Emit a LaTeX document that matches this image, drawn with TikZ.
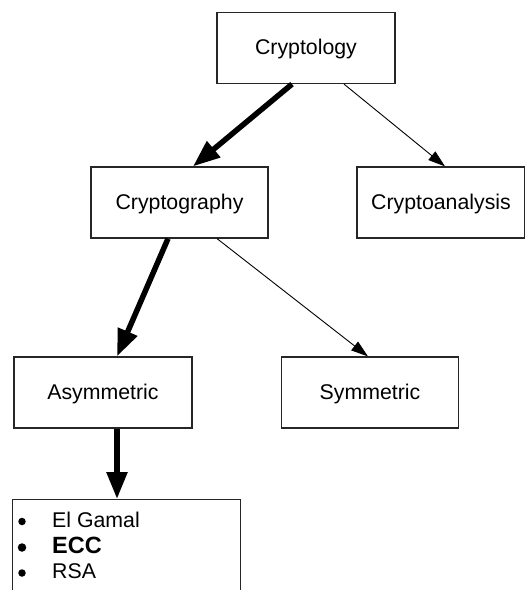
\documentclass[tikz,border=0pt]{standalone}
\usepackage{fontspec}
\setmainfont{Liberation Sans}
\usetikzlibrary{arrows.meta}
\begin{document}
\begin{tikzpicture}[x=1pt,y=-1pt,
  box/.style={draw=black!85,line width=1.2pt,fill=white,rectangle,inner sep=0pt,
    minimum width=#1,minimum height=71pt,text height=15pt,text depth=2pt,
    font=\fontsize{21.3}{25}\selectfont},
  box/.default=178pt,
  heavy/.style={line width=5.5pt,-{Triangle[length=27pt,width=20pt]}},
  light/.style={line width=0.9pt,-{Triangle[length=17pt,width=11pt]}},
  itemtext/.style={anchor=base west,inner sep=0pt,font=\fontsize{21.3}{25}\selectfont},
  dot/.style={circle,fill=black,inner sep=0pt,minimum size=#1},
  dot/.default=7.5pt]
\useasboundingbox (0,0) rectangle (525,590);
\clip (0,0) rectangle (525,590);

% tree of boxes
\node[box] (cl) at (306,48) {Cryptology};
\node[box=177pt] (cg) at (179.5,202.5) {Cryptography};
\node[box=168pt] (ca) at (441,202.5) {Cryptoanalysis};
\node[box] (as) at (103,392.5) {Asymmetric};
\node[box=177pt] (sy) at (370,392.5) {Symmetric};

% list of asymmetric schemes (box runs past the bottom edge)
\node[draw=black!85,line width=1.2pt,rectangle,inner sep=0pt,anchor=north west,
  minimum width=228pt,minimum height=120pt] (lst) at (12,499) {};
\node[dot] (b1) at (22,521.5) {};
\node[dot=8.5pt] (b2) at (22,547.5) {};
\node[dot] (b3) at (22,573) {};
\node[itemtext] (i1) at (52,527) {El Gamal};
\node[itemtext,font=\fontsize{23.5}{25}\selectfont\bfseries] (i2) at (52,553) {ECC};
\node[itemtext] (i3) at (52,578) {RSA};

% connectors
\draw[heavy] ([xshift=-14pt]cl.south) -- ([xshift=13.5pt]cg.north);
\draw[light] ([xshift=38pt]cl.south) -- ([xshift=4pt]ca.north);
\draw[heavy] ([xshift=-11.5pt]cg.south) -- ([xshift=14pt]as.north);
\draw[light] ([xshift=37.5pt]cg.south) -- ([xshift=-2pt]sy.north);
\draw[heavy] ([xshift=14pt]as.south) -- ([xshift=14pt]as.south |- lst.north);
\end{tikzpicture}
\end{document}
